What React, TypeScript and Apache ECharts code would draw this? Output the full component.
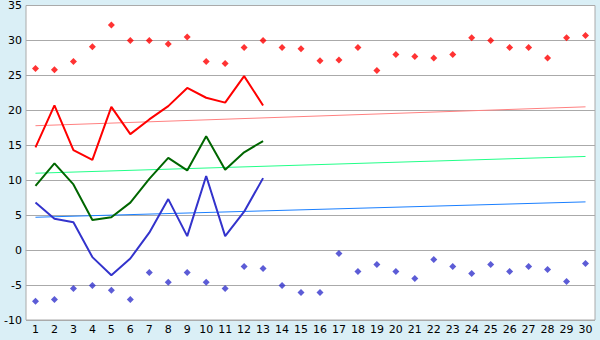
import React, { useEffect, useRef } from "react";
import * as echarts from "echarts";

const days = Array.from({ length: 30 }, (_, i) => String(i + 1));

const maxPoints = [26, 25.8, 27, 29.1, 32.2, 30, 30, 29.5, 30.5, 27, 26.7, 29, 30, 29, 28.8, 27.1, 27.2, 29, 25.7, 28, 27.7, 27.5, 28, 30.4, 30, 29, 29, 27.5, 30.4, 30.7];
const minPoints = [-7.3, -7.05, -5.5, -5.05, -5.76, -7.05, -3.2, -4.6, -3.2, -4.6, -5.5, -2.33, -2.62, -5.05, -6.05, -6.05, -0.48, -3.05, -2.05, -3.05, -4.05, -1.33, -2.33, -3.33, -2.05, -3.05, -2.33, -2.76, -4.48, -1.9];

const redLine = [14.7, 20.7, 14.3, 12.9, 20.5, 16.6, 18.7, 20.6, 23.2, 21.8, 21.1, 24.9, 20.7];
const greenLine = [9.2, 12.4, 9.4, 4.3, 4.7, 6.8, 10.2, 13.2, 11.4, 16.3, 11.5, 14.0, 15.6];
const blueLine = [6.8, 4.5, 4.0, -1.0, -3.6, -1.2, 2.5, 7.3, 2.0, 10.6, 2.0, 5.5, 10.3];

// trend line endpoints [day 1, day 30]
const redTrend = [17.8, 20.5];
const greenTrend = [11.0, 13.4];
const blueTrend = [4.7, 6.9];

const endpoints = (pair: number[]) =>
  days.map((_, i) => (i === 0 ? pair[0] : i === days.length - 1 ? pair[1] : null));

export default function App() {
  const ref = useRef<HTMLDivElement>(null);
  useEffect(() => {
    const chart = echarts.init(ref.current!, null, { renderer: "svg" });
    const font = "DejaVu Sans";
    const trend = (name: string, pair: number[], color: string) => ({
      name,
      type: "line",
      data: endpoints(pair),
      connectNulls: true,
      showSymbol: false,
      symbol: "none",
      lineStyle: { color, width: 1 },
      z: 1,
    });
    const line = (name: string, data: number[], color: string) => ({
      name,
      type: "line",
      data,
      showSymbol: false,
      symbol: "none",
      lineStyle: { color, width: 2 },
      z: 3,
    });
    chart.setOption({
      animation: false,
      backgroundColor: "#daeff6",
      grid: {
        left: 26,
        right: 5,
        top: 5,
        bottom: 20,
        show: true,
        backgroundColor: "#ffffff",
        borderColor: "#aaaaaa",
        borderWidth: 1,
      },
      xAxis: {
        type: "category",
        data: days,
        boundaryGap: true,
        axisLine: { lineStyle: { color: "#aaaaaa" } },
        axisTick: { alignWithLabel: true, length: 5, lineStyle: { color: "#333333" } },
        axisLabel: { color: "#000000", fontFamily: font, fontSize: 11, margin: 4, interval: 0 },
        splitLine: { show: false },
      },
      yAxis: {
        type: "value",
        min: -10,
        max: 35,
        interval: 5,
        axisLine: { show: false },
        axisTick: { show: false },
        axisLabel: { color: "#000000", fontFamily: font, fontSize: 11, margin: 4 },
        splitLine: { lineStyle: { color: "#aaaaaa", width: 1 } },
      },
      series: [
        trend("redTrend", redTrend, "#ff8080"),
        trend("greenTrend", greenTrend, "#22ff88"),
        trend("blueTrend", blueTrend, "#1a7fff"),
        line("red", redLine, "#ff0000"),
        line("green", greenLine, "#006600"),
        line("blue", blueLine, "#3333cc"),
        {
          name: "max",
          type: "scatter",
          data: maxPoints,
          symbol: "diamond",
          symbolSize: 7,
          itemStyle: { color: "#ff0000" },
          z: 4,
        },
        {
          name: "min",
          type: "scatter",
          data: minPoints,
          symbol: "diamond",
          symbolSize: 7,
          itemStyle: { color: "#3333cc" },
          z: 4,
        },
      ],
    });
    return () => chart.dispose();
  }, []);
  return (
    <div
      ref={ref}
      style={{ position: "fixed", left: 0, top: 0, width: 600, height: 340 }}
    />
  );
}
